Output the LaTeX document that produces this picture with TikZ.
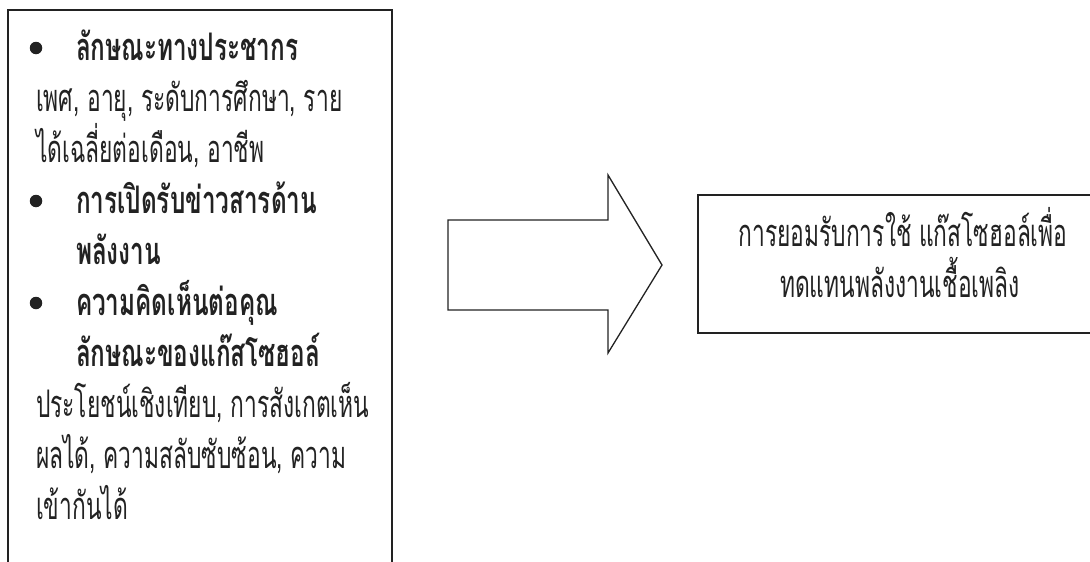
\documentclass[tikz,border=0pt]{standalone}
\usepackage{fontspec}
\newfontfamily\thaifont[Script=Thai,FakeStretch=0.6]{Loma}
\newfontfamily\thaiboldfont[Script=Thai,FakeStretch=0.64]{Loma}
\definecolor{ink}{HTML}{222222}
\tikzset{
  frame/.style={draw=ink, line width=1.4pt, inner sep=0pt, outer sep=0pt},
  txt/.style={inner sep=0pt, outer sep=0pt, text=ink, font=\thaifont\fontsize{38}{40}\selectfont},
  btxt/.style={inner sep=0pt, outer sep=0pt, text=ink, font=\thaiboldfont\bfseries\fontsize{38}{40}\selectfont},
  bul/.style={circle, fill=ink, minimum size=12.5pt, inner sep=0pt},
  bigarrow/.style={draw=ink, line width=1.3pt, line join=miter}
}
\begin{document}
\begin{tikzpicture}[x=1pt,y=-1pt]
\useasboundingbox (0,0) rectangle (1090,562);
\clip (0,0) rectangle (1090,562);
% left box
\node[frame, anchor=north west, minimum width=384pt, minimum height=620pt] (leftbox) at (8,10) {};
% bullets and text
\node[bul] (b1) at (36,48) {};
\node[btxt, anchor=base west] (t1) at (76,60) {ลักษณะทางประชากร};
\node[txt, anchor=base west] (t2) at (36,111) {เพศ, อายุ, ระดับการศึกษา, ราย};
\node[txt, anchor=base west] (t3) at (36,162) {ได้เฉลี่ยต่อเดือน, อาชีพ};
\node[bul] (b2) at (36,201) {};
\node[btxt, anchor=base west] (t4) at (76,213) {การเปิดรับข่าวสารด้าน};
\node[btxt, anchor=base west] (t5) at (76,264) {พลังงาน};
\node[bul] (b3) at (36,303) {};
\node[btxt, anchor=base west] (t6) at (76,315) {ความคิดเห็นต่อคุณ};
\node[btxt, anchor=base west] (t7) at (76,366) {ลักษณะของแก๊สโซฮอล์};
\node[txt, anchor=base west] (t8) at (36,417) {ประโยชน์เชิงเทียบ, การสังเกตเห็น};
\node[txt, anchor=base west] (t9) at (36,468) {ผลได้, ความสลับซับซ้อน, ความ};
\node[txt, anchor=base west] (t10) at (36,519) {เข้ากันได้};
% arrow
\coordinate (a1) at (448,220);
\coordinate (a2) at (608,220);
\coordinate (a3) at (608,175);
\coordinate (tip) at (662,265);
\coordinate (a5) at (608,353);
\coordinate (a6) at (608,310);
\coordinate (a7) at (448,310);
\draw[bigarrow] (a1) -- (a2) -- (a3) -- (tip) -- (a5) -- (a6) -- (a7) -- cycle;
% right box
\node[frame, anchor=north west, minimum width=404pt, minimum height=138pt] (rightbox) at (698,195) {};
\node[txt, anchor=base] (r1) at (903,246) {การยอมรับการใช้ แก๊สโซฮอล์เพื่อ};
\node[txt, anchor=base] (r2) at (900,297) {ทดแทนพลังงานเชื้อเพลิง};
\end{tikzpicture}
\end{document}
